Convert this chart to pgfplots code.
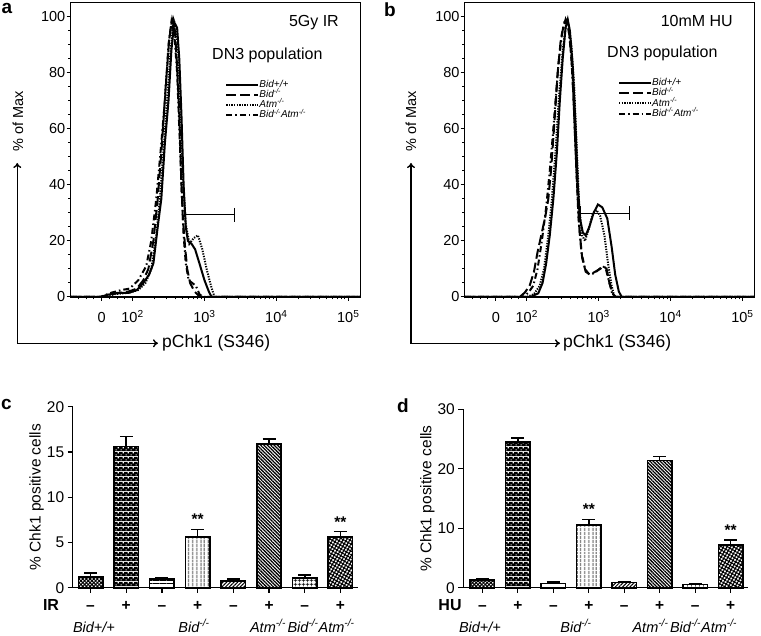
\documentclass[border=0pt]{standalone}
\usepackage{fontspec}
\setmainfont{Liberation Sans}
\usepackage{pgfplots}
\pgfplotsset{compat=1.18}
\usetikzlibrary{arrows.meta, patterns, patterns.meta}

\newcommand{\tl}{\fontsize{14.5}{15}\selectfont}
\newcommand{\tb}{\fontsize{15.5}{16}\selectfont}
\newcommand{\ko}{\textsuperscript{-/-}}

% black with small white squares
\pgfdeclarepatterninherentlycolored{bwcheck}{\pgfpointorigin}{\pgfqpoint{5pt}{5pt}}{\pgfqpoint{5pt}{5pt}}{
  \pgfsetfillcolor{black}
  \pgfpathrectangle{\pgfpointorigin}{\pgfqpoint{5pt}{5pt}}
  \pgfusepath{fill}
  \pgfsetfillcolor{white}
  \pgfpathrectangle{\pgfqpoint{0.6pt}{0.6pt}}{\pgfqpoint{1.4pt}{1.4pt}}
  \pgfpathrectangle{\pgfqpoint{3.1pt}{3.1pt}}{\pgfqpoint{1.4pt}{1.4pt}}
  \pgfusepath{fill}
}

\tikzset{
  c1/.style={black, line width=2pt, solid},
  c2/.style={black, line width=2pt, dash pattern=on 10pt off 4pt},
  c3/.style={black, line width=2pt, dash pattern=on 1.3pt off 1.3pt},
  c4/.style={black, line width=2pt, dash pattern=on 6pt off 3pt on 1.5pt off 3pt},
  gate/.style={black, line width=1.1pt, {Bar[width=14pt]}-{Bar[width=14pt]}},
  p1/.style={pattern={Hatch[angle=45,distance=2.6pt,line width=1pt]}},
  p2/.style={pattern=bwcheck},
  p3/.style={pattern={Lines[angle=0,distance=3.5pt,line width=0.8pt]}},
  p4/.style={pattern={Lines[angle=90,distance=4pt,line width=0.9pt]}},
  p5/.style={pattern={Lines[angle=45,distance=2.6pt,line width=1pt]}},
  p6/.style={pattern={Lines[angle=-45,distance=2.4pt,line width=1.3pt]}},
  p7/.style={pattern={Hatch[angle=0,distance=4pt,line width=0.8pt]}},
  p8/.style={pattern={Hatch[angle=60,distance=3pt,line width=1.1pt]}},
  mybar/.style={ybar, bar shift=0pt, bar width=24.5pt, draw=black, line width=1.6pt},
}

\pgfplotsset{
  histo/.style={
    scale only axis, width=290pt, height=294.3pt,
    xmin=1.137, xmax=5.17, ymin=0, ymax=105,
    axis line style={line width=1.5pt},
    xtick pos=bottom, ytick pos=left, tick align=outside,
    major tick length=4pt, minor tick length=2.5pt,
    every tick/.append style={black, line width=1pt},
    xtick={1.57,2,3,4,5},
    xticklabels={0,10\textsuperscript{2},10\textsuperscript{3},10\textsuperscript{4},10\textsuperscript{5}},
    minor xtick={1.25,1.36,1.46,1.68,1.79,1.89,
      2.301,2.477,2.602,2.699,2.778,2.845,2.903,2.954,
      3.301,3.477,3.602,3.699,3.778,3.845,3.903,3.954,
      4.301,4.477,4.602,4.699,4.778,4.845,4.903,4.954},
    ytick={0,20,40,60,80,100}, minor y tick num=3,
    tick label style={font=\tl},
    /pgf/number format/assume math mode=true,
    xticklabel style={anchor=base, yshift=-22pt},
    yticklabel style={inner sep=1pt},
    clip=false,
    legend style={draw=none, fill=none, anchor=north west,
      font=\fontsize{10}{10}\selectfont\itshape,
      row sep=0pt, inner sep=0pt,
      nodes={inner sep=0.2pt, text height=7.6pt, text depth=2.2pt}},
    legend cell align=left,
    legend image code/.code={\draw[##1] (0pt,0pt) -- (32pt,0pt);},
  },
  barax/.style={
    scale only axis, ymin=0,
    axis x line=bottom, axis y line=left,
    axis line style={line width=1.5pt, -},
    tick align=outside, major tick length=5pt,
    every tick/.append style={black, line width=1.2pt},
    xtick={0,...,7},
    xticklabels={--,+,--,+,--,+,--,+},
    xticklabel style={font=\bfseries\tb, anchor=base, yshift=-18pt},
    yticklabel style={font=\tb},
    /pgf/number format/assume math mode=true,
    ylabel={\% Chk1 positive cells},
    ylabel style={font=\tb, at={(axis description cs:-0.126,0.5)}, anchor=center},
    error bars/y dir=plus, error bars/y explicit,
    error bars/error mark options={rotate=90, mark size=6.5pt, line width=1.6pt},
    error bars/error bar style={line width=1.6pt},
    clip=false,
  },
}

\begin{document}
\begin{tikzpicture}
\path[use as bounding box] (0pt,0pt) rectangle (761pt,-636pt);

% ---------- a ----------
\begin{axis}[histo, at={(70.5pt,-297pt)}, anchor=south west,
  legend style={at={(0.533,0.74)}}]
\addplot[c1] coordinates {(1.137,0) (1.55,0) (1.65,0.8) (1.80,1.5) (1.95,1.5) (2.06,2.5) (2.15,5) (2.23,8) (2.29,12) (2.35,25) (2.40,35) (2.45,55) (2.50,70) (2.54,88) (2.58,98) (2.62,96) (2.65,85) (2.68,65) (2.71,40) (2.74,25) (2.77,20) (2.82,19) (2.87,17) (2.93,12) (3.00,6) (3.06,2) (3.10,0) (5.17,0)};
\addlegendentry{Bid+/+}
\addplot[c2] coordinates {(1.137,0) (1.60,0) (1.75,1.2) (1.95,2) (2.06,3) (2.15,6) (2.22,10) (2.29,20) (2.35,35) (2.41,55) (2.46,75) (2.51,92) (2.55,99) (2.59,95) (2.62,82) (2.65,65) (2.68,40) (2.70,28) (2.73,18) (2.76,10) (2.80,5) (2.86,2) (2.94,0) (5.17,0)};
\addlegendentry{Bid\ko}
\addplot[c3] coordinates {(1.137,0) (1.60,0) (1.75,1) (1.95,1.5) (2.08,2.5) (2.18,5) (2.26,10) (2.33,22) (2.38,35) (2.43,52) (2.48,70) (2.53,88) (2.57,99) (2.61,96) (2.64,85) (2.67,65) (2.70,42) (2.74,26) (2.79,19) (2.85,21) (2.91,22) (2.97,17) (3.03,10) (3.09,4) (3.14,0) (5.17,0)};
\addlegendentry{Atm\ko}
\addplot[c4] coordinates {(1.137,0) (1.55,0) (1.70,1.5) (1.85,2.5) (1.96,3) (2.08,6) (2.19,11) (2.26,20) (2.33,35) (2.39,52) (2.45,70) (2.50,90) (2.54,98) (2.58,94) (2.62,80) (2.65,60) (2.68,40) (2.71,22) (2.74,12) (2.78,6) (2.83,5) (2.88,4) (2.93,1) (2.98,0) (5.17,0)};
\addlegendentry{Bid\ko Atm\ko}
\addplot[gate, forget plot] coordinates {(2.73,29.3) (3.43,29.3)};
\end{axis}

% ---------- b ----------
\begin{axis}[histo, at={(464.7pt,-297pt)}, anchor=south west,
  legend style={at={(0.528,0.745)}}]
\addplot[c1] coordinates {(1.137,0) (2.05,0) (2.16,1.3) (2.22,5) (2.27,12) (2.32,22) (2.37,35) (2.42,52) (2.46,70) (2.50,85) (2.54,96) (2.57,99) (2.60,95) (2.64,82) (2.68,60) (2.71,40) (2.74,28) (2.78,23) (2.82,22) (2.87,25) (2.93,30) (2.99,33) (3.05,32) (3.12,28) (3.18,18) (3.23,8) (3.28,2) (3.32,0) (5.17,0)};
\addlegendentry{Bid+/+}
\addplot[c2] coordinates {(1.137,0) (1.90,0) (1.97,1.5) (2.04,4) (2.10,9) (2.15,16) (2.21,23) (2.26,29) (2.30,35) (2.34,46) (2.37,57) (2.40,68) (2.43,80) (2.47,91) (2.52,98) (2.56,99) (2.60,92) (2.64,78) (2.67,58) (2.70,40) (2.73,25) (2.77,14) (2.82,9) (2.88,8) (2.95,9) (3.02,10) (3.07,11) (3.11,10) (3.15,5) (3.20,1) (3.24,0) (5.17,0)};
\addlegendentry{Bid\ko}
\addplot[c3] coordinates {(1.137,0) (2.00,0) (2.10,1) (2.18,4) (2.24,10) (2.30,22) (2.35,35) (2.40,52) (2.45,72) (2.50,88) (2.55,98) (2.58,97) (2.62,90) (2.66,75) (2.70,50) (2.73,32) (2.77,22) (2.81,20) (2.86,24) (2.92,30) (2.97,31) (3.02,29) (3.08,22) (3.13,12) (3.18,4) (3.22,0) (5.17,0)};
\addlegendentry{Atm\ko}
\addplot[c4] coordinates {(1.137,0) (1.95,0) (2.02,1.5) (2.09,4) (2.15,10) (2.21,20) (2.27,32) (2.32,45) (2.36,57) (2.40,70) (2.44,83) (2.49,94) (2.54,99) (2.58,96) (2.62,86) (2.66,65) (2.69,45) (2.72,28) (2.76,16) (2.81,10) (2.87,8) (2.94,8.5) (3.01,10) (3.06,11) (3.10,10) (3.14,6) (3.19,1) (3.23,0) (5.17,0)};
\addlegendentry{Bid\ko Atm\ko}
\addplot[gate, forget plot] coordinates {(2.74,29.9) (3.44,29.9)};
\end{axis}

% texts of a and b
\node[font=\fontsize{19}{19}\selectfont\bfseries, anchor=north west, inner sep=0pt] at (1.5pt,-3.5pt) {a};
\node[font=\fontsize{19}{19}\selectfont\bfseries, anchor=north west, inner sep=0pt] at (384pt,-3pt) {b};
\node[font=\fontsize{16}{16}\selectfont, anchor=east, inner sep=0pt] at (339pt,-23pt) {5Gy IR};
\node[font=\fontsize{16}{16}\selectfont, anchor=west, inner sep=0pt] at (212pt,-55pt) {DN3 population};
\node[font=\fontsize{16}{16}\selectfont, anchor=east, inner sep=0pt] at (733pt,-21pt) {10mM HU};
\node[font=\fontsize{16}{16}\selectfont, anchor=west, inner sep=0pt] at (607pt,-53pt) {DN3 population};

\draw[line width=1.4pt, {To[length=5pt,width=8pt]}-{To[length=5pt,width=8pt]}] (17.3pt,-163pt) -- (17.3pt,-343.3pt) -- (158pt,-343.3pt);
\node[font=\tl, rotate=90] at (18pt,-121pt) {\% of Max};
\node[font=\fontsize{17.5}{18}\selectfont, anchor=west, inner sep=0pt] at (162pt,-343.3pt) {pChk1 (S346)};
\draw[line width=1.4pt, {To[length=5pt,width=8pt]}-{To[length=5pt,width=8pt]}] (411pt,-163pt) -- (411pt,-343.3pt) -- (560pt,-343.3pt);
\node[font=\tl, rotate=90] at (411pt,-121pt) {\% of Max};
\node[font=\fontsize{17.5}{18}\selectfont, anchor=west, inner sep=0pt] at (563pt,-343.3pt) {pChk1 (S346)};

% ---------- c ----------
\begin{axis}[barax, at={(72.7pt,-587.7pt)}, anchor=south west,
  width=285.6pt, height=181pt, xmin=-0.5, xmax=7.5, ymax=20,
  ytick={0,5,10,15,20}]
\addplot[mybar, p1] coordinates {(0,1.2) +- (0,0.4)};
\addplot[mybar, p2] coordinates {(1,15.6) +- (0,1.1)};
\addplot[mybar, p3] coordinates {(2,0.96) +- (0,0.14)};
\addplot[mybar, p4] coordinates {(3,5.6) +- (0,0.85)};
\addplot[mybar, p5] coordinates {(4,0.74) +- (0,0.19)};
\addplot[mybar, p6] coordinates {(5,15.85) +- (0,0.55)};
\addplot[mybar, p7] coordinates {(6,1.1) +- (0,0.3)};
\addplot[mybar, p8] coordinates {(7,5.6) +- (0,0.6)};
\node[font=\bfseries\tb] at (axis cs:3,7.6) {**};
\node[font=\bfseries\tb] at (axis cs:7,7.2) {**};
\end{axis}

% ---------- d ----------
\begin{axis}[barax, at={(463.3pt,-587.7pt)}, anchor=south west,
  width=285pt, height=178.3pt, xmin=-0.54, xmax=7.5, ymax=30,
  ytick={0,10,20,30}]
\addplot[mybar, p1] coordinates {(0,1.3) +- (0,0.2)};
\addplot[mybar, p2] coordinates {(1,24.5) +- (0,0.7)};
\addplot[mybar, p3] coordinates {(2,0.74) +- (0,0.26)};
\addplot[mybar, p4] coordinates {(3,10.6) +- (0,0.9)};
\addplot[mybar, p5] coordinates {(4,0.85) +- (0,0.15)};
\addplot[mybar, p6] coordinates {(5,21.4) +- (0,0.7)};
\addplot[mybar, p7] coordinates {(6,0.57) +- (0,0.17)};
\addplot[mybar, p8] coordinates {(7,7.2) +- (0,0.8)};
\node[font=\bfseries\tb] at (axis cs:3,13.2) {**};
\node[font=\bfseries\tb] at (axis cs:7,9.7) {**};
\end{axis}

% texts of c and d
\node[font=\fontsize{19}{19}\selectfont\bfseries, anchor=north west, inner sep=0pt] at (1pt,-399pt) {c};
\node[font=\fontsize{19}{19}\selectfont\bfseries, anchor=north west, inner sep=0pt] at (397pt,-399pt) {d};
\node[font=\bfseries\fontsize{16}{16}\selectfont, anchor=base] at (51pt,-610pt) {IR};
\node[font=\bfseries\fontsize{16}{16}\selectfont, anchor=base] at (450pt,-610pt) {HU};
\foreach \x/\t in {94/{Bid+/+}, 194/{Bid\ko}, 268/{Atm\ko}, 321/{Bid\ko Atm\ko},
                   480/{Bid+/+}, 576/{Bid\ko}, 650.5/{Atm\ko}, 703.5/{Bid\ko Atm\ko}}
  \node[font=\itshape\tl, anchor=base, inner sep=0pt] at (\x pt,-632pt) {\t};
\end{tikzpicture}
\end{document}
